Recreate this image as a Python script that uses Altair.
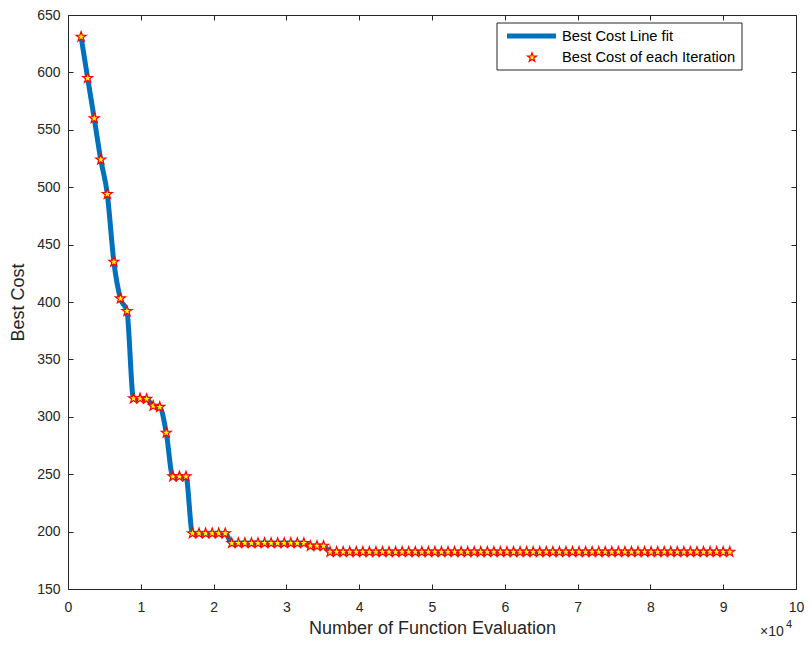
import math
import altair as alt
import pandas as pd

# ---- data ----
iterations = list(range(1, 101))
evals_per_iteration = 900
best_cost = [
    631, 595, 560, 524, 494, 435, 403, 392,
    316, 316, 315.5,
    309.5, 308.5,
    286,
    248, 248, 248,
    198.5, 198.5, 198.5, 198.5, 198.5, 198.5,
    190, 190, 190, 190, 190, 190, 190, 190, 190, 190, 190, 190,
    187.5, 187.5, 187.5,
    182.3, 182.3, 182.3, 182.3, 182.3, 182.3, 182.3, 182.3, 182.3, 182.3,
    182.3, 182.3, 182.3, 182.3, 182.3, 182.3, 182.3, 182.3, 182.3, 182.3,
    182.3, 182.3, 182.3, 182.3, 182.3, 182.3, 182.3, 182.3, 182.3, 182.3,
    182.3, 182.3, 182.3, 182.3, 182.3, 182.3, 182.3, 182.3, 182.3, 182.3,
    182.3, 182.3, 182.3, 182.3, 182.3, 182.3, 182.3, 182.3, 182.3, 182.3,
    182.3, 182.3, 182.3, 182.3, 182.3, 182.3, 182.3, 182.3, 182.3, 182.3,
    182.3, 182.3,
]
nfe = [evals_per_iteration * (k + 1) for k in iterations]
x_ticks = [0, 10000, 20000, 30000, 40000, 50000, 60000, 70000, 80000, 90000, 100000]
y_ticks = [150, 200, 250, 300, 350, 400, 450, 500, 550, 600, 650]
legend_labels = ["Best Cost Line fit", "Best Cost of each Iteration"]

df = pd.DataFrame({"nfe": nfe, "cost": best_cost})

# ---- style ----
FONT = "Liberation Sans"
TXT = "#262626"
BLUE = "#0072BD"

pts = []
for k in range(10):
    r = 1.0 if k % 2 == 0 else 0.40
    a = math.radians(-90 + 36 * k)
    pts.append(f"{r * math.cos(a):.3f},{r * math.sin(a):.3f}")
STAR = "M" + "L".join(pts) + "Z"

PAD_L, PAD_T, PAD_R, PAD_B = 60, 7, 8, 49
W, H = 728, 574
X0, Y0 = 8 + PAD_L, 8 + PAD_T  # plot origin on page

xscale = alt.Scale(domain=[0, 100000], nice=False, zero=False)
yscale = alt.Scale(domain=[150, 650], nice=False, zero=False)

common = dict(domain=False, offset=-5, tickSize=5, tickColor=TXT, tickWidth=1,
              grid=False, labelFont=FONT, labelFontSize=14, labelColor=TXT,
              titleFont=FONT, titleFontWeight="normal", titleColor=TXT)

x_bottom = alt.Axis(orient="bottom", values=x_ticks, labelExpr="datum.value / 10000",
                    title="Number of Function Evaluation", titleFontSize=18,
                    labelPadding=11, titlePadding=5, labelFlush=False, **common)
x_top = alt.Axis(orient="top", values=x_ticks, labels=False, title=None, **common)
y_left = alt.Axis(orient="left", values=y_ticks, title="Best Cost", titleFontSize=18,
                  labelPadding=8, titlePadding=9, labelFlush=False, **common)
y_right = alt.Axis(orient="right", values=y_ticks, labels=False, title=None, **common)

line = alt.Chart(df).mark_line(color=BLUE, strokeWidth=5, interpolate="monotone").encode(
    x=alt.X("nfe:Q", scale=xscale, axis=x_bottom),
    y=alt.Y("cost:Q", scale=yscale, axis=y_left),
)

stars = alt.Chart(df).mark_point(
    shape=STAR, filled=True, fill="#FFFF00", stroke="#FF0000", strokeWidth=1.2,
    size=110, opacity=1, fillOpacity=1, strokeOpacity=1,
).encode(
    x=alt.X("nfe:Q", scale=xscale, axis=x_top),
    y=alt.Y("cost:Q", scale=yscale, axis=y_right),
)

one = alt.Data(values=[{"k": 1}])

leg_box = alt.Chart(one).mark_rect(fill="white", stroke=TXT, strokeWidth=1).encode(
    x=alt.value(497 - X0), x2=alt.value(742 - X0),
    y=alt.value(23 - Y0), y2=alt.value(70 - Y0),
)
leg_line = alt.Chart(one).mark_rule(color=BLUE, strokeWidth=5).encode(
    x=alt.value(507 - X0), x2=alt.value(556 - X0), y=alt.value(36 - Y0),
)
leg_star = alt.Chart(one).mark_point(
    shape=STAR, filled=True, fill="#FFFF00", stroke="#FF0000", strokeWidth=1.2,
    size=90, opacity=1,
).encode(x=alt.value(532 - X0), y=alt.value(57.5 - Y0))
leg_t1 = alt.Chart(one).mark_text(align="left", baseline="middle", font=FONT,
                                  fontSize=14.7, color="#000000").encode(
    x=alt.value(562 - X0), y=alt.value(36.5 - Y0), text=alt.value(legend_labels[0]))
leg_t2 = alt.Chart(one).mark_text(align="left", baseline="middle", font=FONT,
                                  fontSize=14.7, color="#000000").encode(
    x=alt.value(562 - X0), y=alt.value(58 - Y0), text=alt.value(legend_labels[1]))

exp_base = alt.Chart(one).mark_text(align="left", baseline="alphabetic", font=FONT,
                                    fontSize=14, color=TXT).encode(
    x=alt.value(760 - X0), y=alt.value(636 - Y0), text=alt.value("×10"))
exp_pow = alt.Chart(one).mark_text(align="left", baseline="alphabetic", font=FONT,
                                   fontSize=11, color=TXT).encode(
    x=alt.value(786 - X0), y=alt.value(628 - Y0), text=alt.value("4"))

chart = alt.layer(
    line, stars, leg_box, leg_line, leg_star, leg_t1, leg_t2, exp_base, exp_pow
).resolve_axis(x="independent", y="independent").properties(
    width=W, height=H,
    autosize=alt.AutoSizeParams(type="none"),
    padding={"left": PAD_L, "top": PAD_T, "right": PAD_R, "bottom": PAD_B},
    background="white",
).configure_view(stroke=TXT, strokeWidth=1)

chart.save("out.html", embed_options={"renderer": "svg", "actions": False})
